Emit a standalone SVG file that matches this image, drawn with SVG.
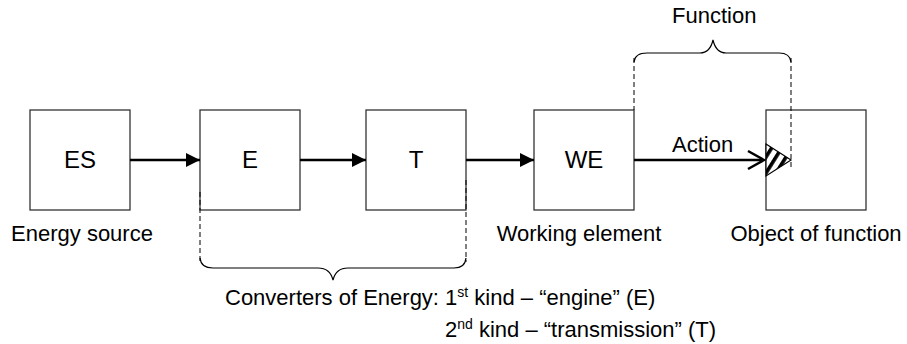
<svg xmlns="http://www.w3.org/2000/svg" width="907" height="344" viewBox="0 0 907 344">
  <style>
    .box { fill: #fff; stroke: #333; stroke-width: 1.3; }
    .lbl { font-family: "Liberation Sans", Arial, sans-serif; font-size: 22px; fill: #000; }
    .node { font-size: 24px; }
    .mid { text-anchor: middle; }
    .flow { stroke: #000; stroke-width: 2.5; fill: none; }
    .dash { stroke: #000; stroke-width: 1; stroke-dasharray: 5 3; fill: none; }
    .brace { stroke: #000; stroke-width: 1.2; fill: none; }
  </style>
  <defs>
    <marker id="head" markerWidth="14" markerHeight="14" refX="14" refY="7" orient="auto" markerUnits="userSpaceOnUse">
      <path d="M0,0 L14,7 L0,14 Z" fill="#000"/>
    </marker>
    <pattern id="hatch" patternUnits="userSpaceOnUse" width="8.5" height="12" patternTransform="rotate(32)">
      <rect x="0" y="0" width="8.5" height="12" fill="#fff"/>
      <rect x="0" y="0" width="3.6" height="12" fill="#000"/>
    </pattern>
  </defs>

  <!-- nodes -->
  <g id="es">
    <rect class="box" x="30" y="110" width="100" height="100"/>
    <text class="lbl node mid" x="80" y="168">ES</text>
    <text class="lbl mid" x="82" y="241">Energy source</text>
  </g>
  <g id="e">
    <rect class="box" x="200" y="110" width="100" height="100"/>
    <text class="lbl node mid" x="250" y="168">E</text>
  </g>
  <g id="t">
    <rect class="box" x="366" y="110" width="100" height="100"/>
    <text class="lbl node mid" x="416" y="168">T</text>
  </g>
  <g id="we">
    <rect class="box" x="534" y="110" width="100" height="100"/>
    <text class="lbl node mid" x="584" y="168">WE</text>
    <text class="lbl mid" x="579" y="241">Working element</text>
  </g>
  <g id="object">
    <rect class="box" x="766" y="110" width="100" height="100"/>
    <text class="lbl mid" x="816" y="241">Object of function</text>
  </g>

  <!-- connectors -->
  <g id="connectors">
    <line class="flow" x1="130" y1="160" x2="200" y2="160" marker-end="url(#head)"/>
    <line class="flow" x1="300" y1="160" x2="366" y2="160" marker-end="url(#head)"/>
    <line class="flow" x1="466" y1="160" x2="534" y2="160" marker-end="url(#head)"/>
    <line class="flow" x1="634" y1="160" x2="763" y2="160"/>
    <polyline class="flow" points="748,151 764,160 748,169"/>
    <text class="lbl" x="672" y="152">Action</text>
    <!-- contact zone on the object -->
    <polygon points="766,144 791,160 766,176" fill="url(#hatch)" stroke="#000" stroke-width="1.2"/>
  </g>

  <!-- extent markers and braces -->
  <g id="converters-span">
    <line class="dash" x1="200" y1="192" x2="200" y2="262"/>
    <line class="dash" x1="466" y1="180" x2="466" y2="262"/>
    <path class="brace" d="M200,258 Q201,268 213,268 L318,268 Q330,268 333,280 Q336,268 348,268 L454,268 Q465,268 466,258"/>
    <text class="lbl" x="225" y="305">Converters of Energy: 1<tspan font-size="14" dy="-8">st</tspan><tspan dy="8"> kind – “engine” (E)</tspan></text>
    <text class="lbl" x="445" y="337">2<tspan font-size="14" dy="-8">nd</tspan><tspan dy="8"> kind – “transmission” (T)</tspan></text>
  </g>
  <g id="function-span">
    <line class="dash" x1="634" y1="58" x2="634" y2="110"/>
    <line class="dash" x1="791" y1="58" x2="791" y2="168"/>
    <path class="brace" d="M634,62 Q635,53 647,53 L700,53 Q710,53 713,40 Q716,53 726,53 L779,53 Q790,53 791,62"/>
    <text class="lbl" x="672" y="23">Function</text>
  </g>
</svg>
